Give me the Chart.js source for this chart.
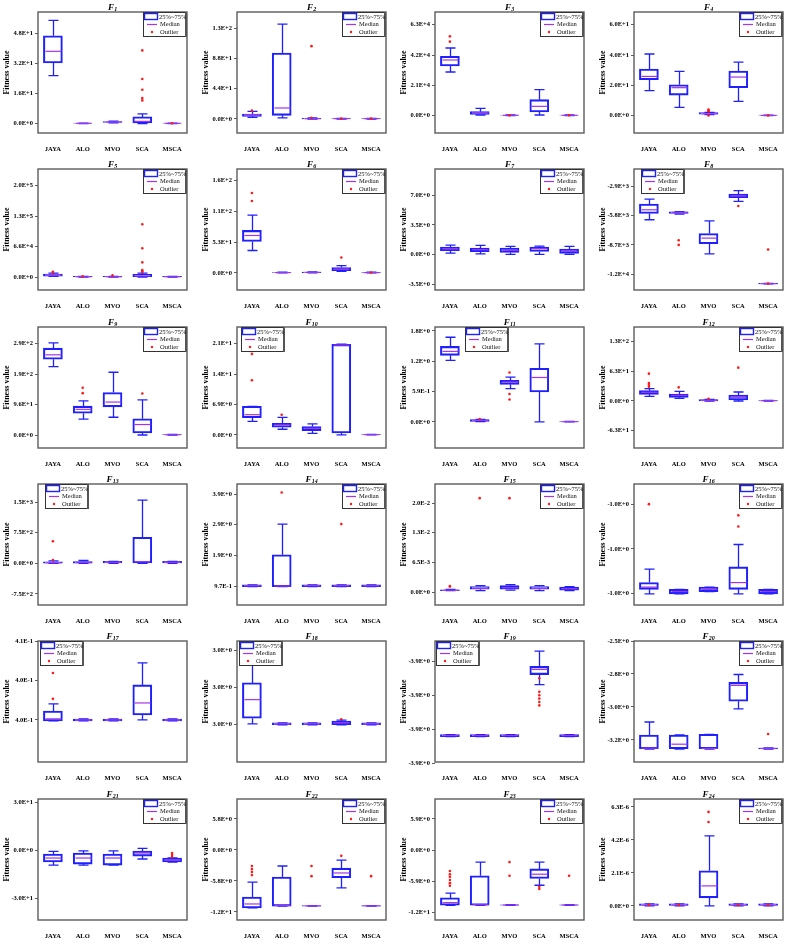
<!DOCTYPE html>
<html><head><meta charset="utf-8">
<script src="https://cdn.jsdelivr.net/npm/chart.js@4.4.1/dist/chart.umd.min.js"></script>
<style>
html,body{margin:0;padding:0;background:#fff;width:794px;height:944px;overflow:hidden;}
#grid{position:relative;width:794px;height:944px;background:#fff;}
#grid canvas{position:absolute;}
</style></head><body><div id="grid"></div>
<script>
const categories = ['JAYA', 'ALO', 'MVO', 'SCA', 'MSCA'];
const panelNumbers = ['1','2','3','4','5','6','7','8','9','10','11','12','13','14','15','16','17','18','19','20','21','22','23','24'];

// per panel, per category: [JAYA, ALO, MVO, SCA, MSCA]
const whiskerLow = [
  [25.6, 0, 0.4, 0, 0],
  [2.4, 1.5, 0, 0, 0],
  [30230, 460, 0, 460, 0],
  [16.5, 5.5, 0.7, 9.5, 0],
  [1500, 0, 0, 0, 0],
  [38.6, 0, 0.3, 2.9, 0],
  [0.16, 0.08, 0.02, 0.0, 0.01],
  [-6210, -5650, -9590, -4390, -12570],
  [216, 50, 56, 0, 0],
  [3.1, 1.29, 0.38, 0, 0],
  [1.199, 0.008, 0.647, 0, 0],
  [9.9, 5.6, 0, 0, 0],
  [0, 0, 0, 0, 0],
  [0.95, 0.95, 0.95, 0.95, 0.95],
  [0.0003, 0.0003, 0.0004, 0.0003, 0.0003],
  [-1.0316, -1.0316, -1.03159, -1.0316, -1.0316],
  [0.39792, 0.39792, 0.39792, 0.398, 0.39792],
  [3.00001, 3.0, 3.0, 3.0, 3.0],
  [-3.86222, -3.86222, -3.86222, -3.86069, -3.86222],
  [-3.264, -3.264, -3.264, -2.98, -3.264],
  [-9.4, -9.4, -9.4, -5.6, -7.5],
  [-10.85, -10.5, -10.5, -7.1, -10.5],
  [-10.5, -10.5, -10.5, -6.7, -10.5],
  [0, 0, 0, 0, 0]
];
const quartile1 = [
  [32.4, 0, 0.6, 0.4, 0],
  [3.9, 5.3, 0.2, 0, 0],
  [34390, 920, 0, 2540, 0],
  [23.7, 13.6, 1.0, 18.5, 0],
  [2200, 0, 0, 700, 0],
  [54.1, 0, 0.5, 4.0, 0],
  [0.44, 0.32, 0.24, 0.36, 0.12],
  [-5580, -5580, -8590, -4030, -12570],
  [239, 69, 89, 6.3, 0],
  [3.9, 1.74, 0.99, 0.45, 0],
  [1.295, 0.013, 0.731, 0.583, 0],
  [14.1, 7.8, 0.3, 2.1, 0],
  [5, 5, 0, 10, 0],
  [0.95, 0.95, 0.95, 0.95, 0.95],
  [0.0003, 0.0006, 0.0006, 0.0006, 0.0004],
  [-1.03158, -1.0316, -1.03159, -1.03158, -1.0316],
  [0.39792, 0.39792, 0.39792, 0.39838, 0.39792],
  [3.00007, 3.0, 3.0, 3.0, 3.0],
  [-3.86222, -3.86222, -3.86222, -3.86039, -3.86222],
  [-3.262, -3.262, -3.262, -2.926, -3.264],
  [-7.5, -8.8, -9.4, -3.8, -7.5],
  [-10.85, -10.5, -10.5, -5.2, -10.5],
  [-10.5, -10.5, -10.5, -5.4, -10.5],
  [0, 0, 0.51e-6, 0, 0]
];
const medians = [
  [38.6, 0.15, 0.85, 1.2, 0.15],
  [5.3, 16.0, 0.5, 0.5, 0.5],
  [38540, 1850, 230, 6460, 230],
  [25.9, 18.5, 1.3, 25.5, 0.2],
  [4000, 700, 700, 2500, 700],
  [64.5, 0.6, 0.9, 6.9, 0.6],
  [0.64, 0.56, 0.48, 0.68, 0.36],
  [-5220, -5480, -8030, -3860, -12540],
  [253, 81, 104, 33, 1],
  [4.6, 2.27, 1.5, 20.4, 0.08],
  [1.372, 0.032, 0.776, 0.865, 0.006],
  [18.3, 12.0, 1.5, 7.8, 0.7],
  [15, 20, 25, 40, 25],
  [0.98, 0.97, 0.98, 0.98, 0.98],
  [0.0004, 0.0008, 0.0009, 0.0008, 0.0007],
  [-1.03157, -1.03159, -1.03158, -1.03155, -1.03159],
  [0.39808, 0.398, 0.398, 0.39929, 0.398],
  [3.00027, 3.00001, 3.00001, 3.00002, 3.00001],
  [-3.86219, -3.86219, -3.86219, -3.86024, -3.86219],
  [-3.258, -3.23, -3.26, -2.814, -3.26],
  [-5.0, -5.0, -5.0, -1.9, -6.3],
  [-10.1, -10.4, -10.45, -4.3, -10.45],
  [-10.0, -10.4, -10.45, -4.6, -10.45],
  [0.06e-6, 0.06e-6, 1.27e-6, 0.06e-6, 0.06e-6]
];
const quartile3 = [
  [46.9, 0.3, 1.1, 3.6, 0.3],
  [7.3, 96.0, 1.0, 1.0, 1.0],
  [41080, 2770, 460, 11080, 460],
  [30.8, 20.4, 2.0, 29.5, 0.45],
  [6500, 1400, 1400, 5800, 1400],
  [73.2, 1.2, 1.5, 9.2, 1.2],
  [0.88, 0.76, 0.76, 0.88, 0.64],
  [-4650, -5420, -7570, -3660, -12510],
  [274, 91, 134, 51, 2],
  [6.5, 2.65, 1.9, 20.55, 0.15],
  [1.468, 0.045, 0.808, 1.045, 0.012],
  [21.9, 14.8, 3.0, 12.7, 1.4],
  [40, 45, 50, 640, 50],
  [1.01, 1.96, 1.01, 1.01, 1.01],
  [0.0005, 0.0012, 0.0014, 0.0012, 0.0011],
  [-1.03155, -1.03158, -1.03157, -1.03148, -1.03158],
  [0.39868, 0.39807, 0.39807, 0.40066, 0.39807],
  [3.00045, 3.00002, 3.00002, 3.00004, 3.00002],
  [-3.86216, -3.86216, -3.86216, -3.86015, -3.86216],
  [-3.165, -3.165, -3.16, -2.793, -3.257],
  [-2.5, -1.9, -2.5, -0.6, -5.0],
  [-8.8, -5.05, -10.4, -3.4, -10.4],
  [-9.1, -4.9, -10.4, -3.6, -10.4],
  [0.13e-6, 0.13e-6, 2.23e-6, 0.13e-6, 0.13e-6]
];
const whiskerHigh = [
  [55.1, 0.3, 1.3, 5.2, 0.3],
  [11.2, 138, 1.5, 1.0, 1.0],
  [46850, 5080, 460, 18000, 460],
  [40.7, 29.2, 2.2, 35.4, 0.45],
  [8700, 1400, 1400, 8700, 1400],
  [99.7, 1.2, 1.8, 12.7, 1.2],
  [1.11, 1.07, 0.95, 0.99, 0.95],
  [-4160, -5400, -6310, -3330, -12510],
  [291, 108, 198, 111, 2],
  [6.5, 4.0, 2.5, 20.6, 0.15],
  [1.647, 0.05, 0.872, 1.519, 0.012],
  [26.1, 20.4, 3.5, 19.0, 1.4],
  [60, 70, 50, 1550, 50],
  [1.01, 2.93, 1.01, 1.01, 1.01],
  [0.0006, 0.0014, 0.0016, 0.0014, 0.0012],
  [-1.03149, -1.03158, -1.03157, -1.03138, -1.03158],
  [0.39922, 0.39807, 0.39807, 0.40233, 0.39807],
  [3.00085, 3.00002, 3.00002, 3.00005, 3.00002],
  [-3.86216, -3.86216, -3.86216, -3.8597, -3.86216],
  [-3.073, -3.165, -3.16, -2.737, -3.257],
  [-0.8, -0.5, -0.5, 1.0, -5.0],
  [-6.0, -3.0, -10.4, -1.9, -10.4],
  [-8.2, -2.3, -10.4, -2.3, -10.4],
  [0.13e-6, 0.13e-6, 4.45e-6, 0.13e-6, 0.13e-6]
];
const outliers = [
  [[], [], [], [39.1, 23.8, 18.1, 13.7, 12.4], [0.15]],
  [[12.1], [], [106, 1.8], [0.5], [0.5]],
  [[54900, 51240], [], [230], [], [230]],
  [[], [], [4.0, 3.4, 2.9, 0.2], [], [0.2]],
  [[11600, 10000], [1600], [3600], [114500, 62300, 31900, 15200, 13000, 10900], []],
  [[137.7, 123.8], [], [], [26.5], [0.6]],
  [[], [], [], [], []],
  [[], [-8240, -8700], [], [-4850], [-9160, -12540]],
  [[], [149, 132], [], [131], []],
  [[18.4, 12.4], [4.6], [], [], []],
  [[], [0.058], [0.962, 0.545, 0.436], [], []],
  [[57.8, 38.1, 34.5, 30.3], [28.9], [4.9], [70.5], []],
  [[540, 80], [], [], [], []],
  [[], [3.93], [], [2.93], []],
  [[0.0012, 0.0013], [0.0206], [0.0206], [], []],
  [[-1.0312], [], [], [-1.03125, -1.0313], []],
  [[0.40157, 0.3996], [], [], [], []],
  [[], [], [], [3.00006], []],
  [[], [], [], [-3.8605, -3.8609, -3.861, -3.8611, -3.8612, -3.8613], []],
  [[], [], [], [], [-3.158]],
  [[], [], [], [], [-1.9, -3.1, -4.4]],
  [[-3.0, -3.55, -4.1, -4.7], [], [-3.0, -4.9], [-1.1], [-4.9]],
  [[-4.0, -4.6, -5.1, -5.7, -6.3, -6.8], [], [-2.3, -4.9], [-7.0, -7.4], [-4.9]],
  [[0.06e-6], [0.06e-6], [5.98e-6, 5.34e-6], [0.06e-6], [0.06e-6]]
];
const yMin = [-5, -20.4, -12000, -11.4, -28000, -29.4, -4.2, -13170, -41, -2.96, -0.506, -99.4,
  -1020, 0.37, -0.00285, -1.03165, 0.3948, 2.9996, -3.86297, -3.356, -43.75, -13.1, -13.3, -0.9e-6];
const yMax = [59.6, 155.7, 71770, 68.4, 234000, 179, 10.1, -1178, 340.8, 24.5, 1.846, 156.5,
  1943, 4.2, 0.0237, -1.03111, 0.404, 3.0009, -3.8594, -2.5, 31.9, 9.54, 9.69, 6.8e-6];
const yTicks = [
  [0, 16, 32, 48], [0, 44, 88, 132], [0, 21000, 42000, 63000], [0, 20, 40, 60],
  [0, 66000, 132000, 198000], [0, 53, 106, 159], [-3.5, 0, 3.5, 7], [-11600, -8700, -5800, -2900],
  [0, 96, 192, 288], [0, 6.9, 13.8, 20.7], [0, 0.59, 1.18, 1.77], [-63, 0, 63, 126],
  [-750, 0, 750, 1500], [0.97, 1.94, 2.91, 3.88], [0, 0.0065, 0.013, 0.0195], [-1.0316, -1.0314, -1.0312],
  [0.398, 0.401, 0.404], [3.0, 3.0004, 3.0008], [-3.863, -3.862, -3.861, -3.860], [-3.2, -2.9667, -2.7333, -2.5],
  [-30, 0, 30], [-11.6, -5.8, 0, 5.8], [-11.8, -5.9, 0, 5.9], [0, 2.1e-6, 4.2e-6, 6.3e-6]
];
const yTickLabels = [
  ['0.0E+0', '1.6E+1', '3.2E+1', '4.8E+1'], ['0.0E+0', '4.4E+1', '8.8E+1', '1.3E+2'],
  ['0.0E+0', '2.1E+4', '4.2E+4', '6.3E+4'], ['0.0E+0', '2.0E+1', '4.0E+1', '6.0E+1'],
  ['0.0E+0', '6.6E+4', '1.3E+5', '2.0E+5'], ['0.0E+0', '5.3E+1', '1.1E+2', '1.6E+2'],
  ['-3.5E+0', '0.0E+0', '3.5E+0', '7.0E+0'], ['-1.2E+4', '-8.7E+3', '-5.8E+3', '-2.9E+3'],
  ['0.0E+0', '9.6E+1', '1.9E+2', '2.9E+2'], ['0.0E+0', '6.9E+0', '1.4E+1', '2.1E+1'],
  ['0.0E+0', '5.9E-1', '1.2E+0', '1.8E+0'], ['-6.3E+1', '0.0E+0', '6.3E+1', '1.3E+2'],
  ['-7.5E+2', '0.0E+0', '7.5E+2', '1.5E+3'], ['9.7E-1', '1.9E+0', '2.9E+0', '3.9E+0'],
  ['0.0E+0', '6.5E-3', '1.3E-2', '2.0E-2'], ['-1.0E+0', '-1.0E+0', '-1.0E+0'],
  ['4.0E-1', '4.0E-1', '4.1E-1'], ['3.0E+0', '3.0E+0', '3.0E+0'],
  ['-3.9E+0', '-3.9E+0', '-3.9E+0', '-3.9E+0'], ['-3.2E+0', '-3.0E+0', '-2.8E+0', '-2.5E+0'],
  ['-3.0E+1', '0.0E+0', '3.0E+1'], ['-1.2E+1', '-5.8E+0', '0.0E+0', '5.8E+0'],
  ['-1.2E+1', '-5.9E+0', '0.0E+0', '5.9E+0'], ['0.0E+0', '2.1E-6', '4.2E-6', '6.3E-6']
];

// ---- styling / layout (not data) ----
const legendOffset = ['R','R','R','R','R','R','R',7,'R',4,30,'R',7,'R','R','R',2,2,1,'R','R','R','R','R'];
const SERIF = '"Liberation Serif", "Times New Roman", serif';
const BLUE = '#2020ff';
const MEDIAN = '#a335e8';
const RED = '#ff1a1a';
const FRAME = '#5c5c5c';
const PANEL_W = 198, PANEL_H = 157;

const boxPlugin = {
  id: 'boxExtras',
  beforeDatasetsDraw(chart, args, opts) {
    const p = opts.panel;
    const {ctx, scales: {x, y}} = chart;
    ctx.save();
    ctx.strokeStyle = BLUE;
    ctx.lineWidth = 1.3;
    categories.forEach((c, j) => {
      const cx = Math.round(x.getPixelForValue(j)) + 0.5;
      const yl = y.getPixelForValue(whiskerLow[p][j]);
      const y1 = y.getPixelForValue(quartile1[p][j]);
      const y3 = y.getPixelForValue(quartile3[p][j]);
      const yh = y.getPixelForValue(whiskerHigh[p][j]);
      ctx.beginPath();
      ctx.moveTo(cx, y3); ctx.lineTo(cx, yh);
      ctx.moveTo(cx, y1); ctx.lineTo(cx, yl);
      ctx.moveTo(cx - 5, yh); ctx.lineTo(cx + 5, yh);
      ctx.moveTo(cx - 5, yl); ctx.lineTo(cx + 5, yl);
      ctx.stroke();
    });
    ctx.restore();
  },
  afterDatasetDraw(chart, args, opts) {
    if (args.index !== 0) return;
    const p = opts.panel;
    const {ctx, scales: {x, y}} = chart;
    ctx.save();
    ctx.strokeStyle = MEDIAN;
    ctx.lineWidth = 1.2;
    categories.forEach((c, j) => {
      const cx = Math.round(x.getPixelForValue(j)) + 0.5;
      const ym = y.getPixelForValue(medians[p][j]);
      ctx.beginPath();
      ctx.moveTo(cx - 8, ym); ctx.lineTo(cx + 8, ym);
      ctx.stroke();
    });
    ctx.restore();
  },
  afterDraw(chart, args, opts) {
    const p = opts.panel;
    const {ctx, chartArea: a} = chart;
    ctx.save();
    // frame
    ctx.strokeStyle = FRAME;
    ctx.lineWidth = 1.4;
    ctx.strokeRect(a.left, a.top, a.right - a.left, a.bottom - a.top);
    // legend
    const lw = 44, lh = 25;
    const lo = legendOffset[p];
    const lx = lo === 'R' ? a.right - lw : a.left + lo;
    const ly = a.top;
    ctx.fillStyle = '#fff';
    ctx.fillRect(lx, ly, lw, lh);
    ctx.strokeStyle = '#333';
    ctx.lineWidth = 1;
    ctx.strokeRect(lx + 0.5, ly + 0.5, lw - 1, lh - 1);
    ctx.fillStyle = '#555';
    ctx.fillRect(lx + lw - 2, ly, 2, lh);
    ctx.strokeStyle = BLUE;
    ctx.lineWidth = 1.4;
    ctx.strokeRect(lx + 1.5, ly + 1.5, 13, 6);
    ctx.strokeStyle = MEDIAN;
    ctx.lineWidth = 1.2;
    ctx.beginPath(); ctx.moveTo(lx + 4, ly + 12.5); ctx.lineTo(lx + 14, ly + 12.5); ctx.stroke();
    ctx.fillStyle = RED;
    ctx.beginPath(); ctx.arc(lx + 9, ly + 20, 1.2, 0, Math.PI * 2); ctx.fill();
    ctx.fillStyle = '#111';
    ctx.font = '6.5px ' + SERIF;
    ctx.textBaseline = 'middle';
    ctx.textAlign = 'left';
    ctx.fillText('25%~75%', lx + 16, ly + 5);
    ctx.fillText('Median', lx + 17, ly + 12.5);
    ctx.fillText('Outlier', lx + 17, ly + 20);
    // title with subscript
    const num = panelNumbers[p];
    ctx.fillStyle = '#000';
    ctx.textBaseline = 'alphabetic';
    ctx.font = 'italic bold 9px ' + SERIF;
    const w1 = ctx.measureText('F').width;
    ctx.font = 'italic bold 6px ' + SERIF;
    const w2 = ctx.measureText(num).width;
    const tx = (a.left + a.right) / 2 - (w1 + w2) / 2;
    ctx.font = 'italic bold 9px ' + SERIF;
    ctx.fillText('F', tx, 9.5);
    ctx.font = 'italic bold 6px ' + SERIF;
    ctx.fillText(num, tx + w1 + 0.3, 11.2);
    ctx.restore();
  }
};

const grid = document.getElementById('grid');
for (let p = 0; p < 24; p++) {
  const col = p % 4, row = Math.floor(p / 4);
  const cv = document.createElement('canvas');
  cv.width = PANEL_W; cv.height = PANEL_H;
  cv.style.width = PANEL_W + 'px'; cv.style.height = PANEL_H + 'px';
  cv.style.left = Math.round(col * 198.5) + 'px';
  cv.style.top = Math.round(row * 157.33) + 'px';
  grid.appendChild(cv);

  const outlierPoints = [];
  categories.forEach((c, j) => outliers[p][j].forEach(v => outlierPoints.push({x: c, y: v})));

  new Chart(cv, {
    type: 'bar',
    data: {
      labels: categories,
      datasets: [
        {
          type: 'bar',
          data: categories.map((c, j) => [quartile1[p][j], quartile3[p][j]]),
          backgroundColor: 'rgba(255,255,255,0)',
          borderColor: BLUE,
          borderWidth: 1.4,
          borderSkipped: false,
          barThickness: 19,
          order: 2
        },
        {
          type: 'line',
          data: outlierPoints,
          showLine: false,
          pointRadius: 1.3,
          pointBackgroundColor: RED,
          pointBorderWidth: 0,
          pointBorderColor: RED,
          order: 1
        }
      ]
    },
    options: {
      responsive: false,
      animation: false,
      devicePixelRatio: 1,
      events: [],
      layout: {padding: {left: 0, right: PANEL_W - 187, top: 12, bottom: 0}},
      plugins: {
        legend: {display: false},
        tooltip: {enabled: false},
        title: {display: false},
        boxExtras: {panel: p}
      },
      scales: {
        x: {
          type: 'category',
          offset: true,
          grid: {display: false, offset: false},
          border: {display: false},
          ticks: {font: {family: SERIF, size: 6.5, weight: 'bold'}, color: '#000', padding: 4, maxRotation: 0, autoSkip: false},
          afterFit(s) { s.height = PANEL_H - 133; }
        },
        y: {
          type: 'linear',
          min: yMin[p],
          max: yMax[p],
          afterBuildTicks(s) { s.ticks = yTicks[p].map(v => ({value: v})); },
          grid: {display: true, drawOnChartArea: false, drawTicks: true, tickLength: 3, color: FRAME, lineWidth: 1},
          border: {display: false},
          ticks: {
            font: {family: SERIF, size: 6.5, weight: 'bold'}, color: '#000', padding: 2, autoSkip: false,
            callback: (v, i) => yTickLabels[p][i]
          },
          title: {display: true, text: 'Fitness value', color: '#000', font: {family: SERIF, size: 8, weight: 'bold'}, padding: {top: 2, bottom: 0}},
          afterFit(s) { s.width = 38; }
        }
      }
    },
    plugins: [boxPlugin]
  });
}
</script>
</body></html>
